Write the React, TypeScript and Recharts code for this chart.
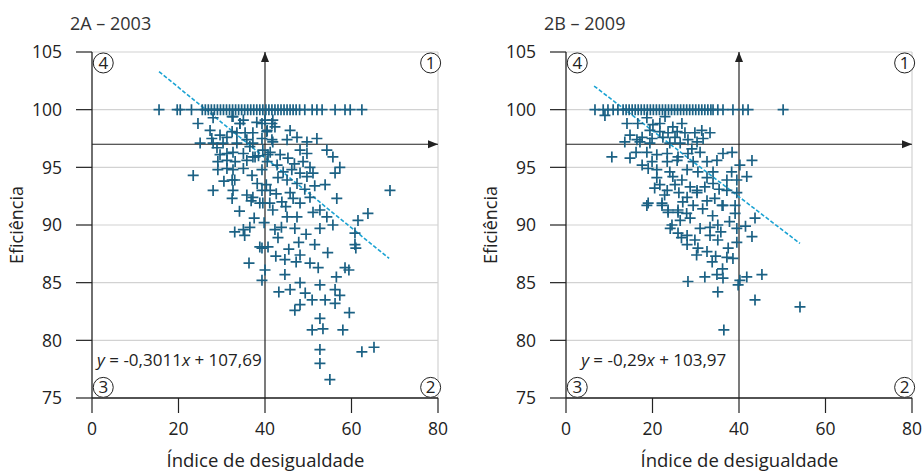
import React from 'react';
import { ScatterChart, Scatter, XAxis, YAxis, CartesianGrid, ReferenceLine, ReferenceDot } from 'recharts';

type Pt = [number, number];

const xTicks = [0, 20, 40, 60, 80];
const yTicks = [75, 80, 85, 90, 95, 100, 105];

// 2003: x positions of units with efficiency = 100
const full2003X: number[] = [
  15.5, 19.7, 20.4, 23, 25.5, 26.2, 26.9, 27.6, 28.3, 29, 29.7, 30.4, 31.1, 31.8, 32.5, 33.2,
  33.9, 34.6, 35.3, 36, 36.7, 37.4, 38.1, 38.8, 39.5, 40.2, 40.9, 41.6, 42.3, 43, 43.7, 44.4,
  45.1, 45.8, 46.5, 47.2, 48, 49.2, 50.9, 52, 53.2, 56.2, 58.5, 59.7, 62.4,
];

const scatter2003: Pt[] = [
  [24.5, 98.8], [27.3, 98.2], [28, 99.3], [27.7, 97.5], [29.6, 97.8], [31.2, 97.6], [32.6, 99.4],
  [34.2, 98.8], [35, 99.1], [32.4, 98.1], [33.5, 98], [35.4, 98], [37.2, 98], [38.1, 98.9],
  [39.3, 98.8], [40, 99.1], [40.4, 98.1], [41.6, 98.8], [25, 97.1], [28, 97.1], [28.9, 96.7],
  [30.3, 97.1], [33.5, 97.1], [35.8, 97.4], [37.2, 97.1], [39.3, 97.5], [41.8, 97.2], [29.6, 96.1],
  [31.2, 96.2], [32.6, 96.3], [35, 96.2], [37.2, 95.9], [39.5, 96.5], [40.7, 96.1], [29.1, 95.5],
  [31.2, 95.6], [33.1, 95.5], [35.8, 95.6], [37.7, 95.9], [40.5, 95.5], [23.4, 94.3], [29.1, 94.8],
  [31.2, 94.9], [32.6, 94.8], [35, 94.9], [37, 94.3], [39.3, 94.8], [32.4, 93.9], [33, 93.9],
  [28, 93], [32.6, 93], [35.8, 92.6], [37.2, 92.4], [39.3, 93], [32.4, 92.3], [39.5, 91.9],
  [41.1, 91.9], [32.4, 99.4], [34.2, 98.8], [41.8, 99.1], [42.3, 98.5], [40.5, 98.2], [45.8, 98.2],
  [47.4, 97.6], [45.1, 97.4], [49.7, 97.2], [52, 97.5], [41.6, 97.4], [54.3, 96.5], [55.7, 95.9],
  [57.3, 95], [56.2, 94.5], [48.1, 96.5], [49.7, 96.2], [45.3, 95.8], [48.8, 95.5], [50.4, 95],
  [43.5, 96.1], [41.2, 96.3], [51.1, 94.5], [46.2, 94.8], [48.1, 94.5], [43, 94.1], [45.1, 93.9],
  [47.4, 93.6], [49.7, 94.2], [53.9, 93.5], [68.9, 93], [56.6, 92.3], [50.4, 92.4], [45.8, 92.8],
  [43.9, 92], [41.2, 93], [38.8, 91.9], [48.1, 91.9], [52.7, 91.3], [51.1, 91.1], [54.3, 90.7],
  [63.8, 91], [61.5, 90.4], [41.8, 91.3], [45.1, 90.7], [47.4, 90.7], [55.7, 90], [60.8, 89.3],
  [52.7, 89.7], [35, 89.6], [36.5, 89.8], [42.3, 89.6], [46.9, 89.7], [43, 88.9], [60.8, 88.3],
  [38.8, 88.1], [40.7, 88.1], [33, 89.4], [35.3, 89.1], [39.3, 88], [42.5, 87.3], [44.6, 87],
  [47.2, 86.8], [48.1, 87.4], [50.4, 86.7], [52.3, 86.3], [58.5, 86.3], [39.3, 85.2], [44.6, 85.7],
  [48.1, 85], [52.7, 84.8], [45.8, 84.4], [49.3, 84.1], [56.2, 84.4], [50.9, 83.5], [57.3, 83.9],
  [46.9, 82.6], [53.9, 83.5], [56.2, 83.2], [52.7, 81.9], [53.4, 81], [50.9, 80.9], [58, 80.9],
  [59.5, 82.4], [52.7, 79.2], [52.7, 78], [55, 76.6], [62.4, 79], [65.2, 79.4], [48.1, 83.1],
  [43.2, 84.2], [40, 86.1], [59.4, 86.1], [61, 88], [36.3, 86.7],
  [36.5, 96.8], [38.5, 96], [42.8, 95.2], [44.2, 94.6], [46.8, 95.3], [38.2, 93.6], [40.3, 93.5],
  [42.6, 92.7], [44.8, 91.6], [46.5, 92.3], [49.2, 93.1], [51.5, 93.4], [37.5, 90.6], [39.8, 90.2],
  [43.8, 89.8], [49.5, 89.2], [51.5, 88.3], [47.8, 88.5], [45.5, 87.9], [54.5, 87.6], [56.5, 85.5],
  [30.5, 93.8], [34.1, 91.2], [36.8, 92.1],
];

const full2009X: number[] = [
  6.7, 8.6, 9.7, 10.9, 12, 13.2, 13.9, 14.6, 15.3, 16, 16.7, 17.4, 18.1, 18.8, 19.5, 20.2,
  20.9, 21.6, 22.3, 23, 23.7, 24.4, 25.1, 25.8, 26.5, 27.2, 27.9, 28.6, 29.3, 30, 30.7, 31.4,
  32.1, 32.8, 33.5, 34, 35.1, 36.3, 38.6, 40.9, 42.1, 50.2,
];

const scatter2009: Pt[] = [
  [9, 99.5], [14.1, 98.8], [16.6, 98.8], [18.7, 99.3], [20.1, 98.7], [21.7, 98.8], [22.9, 99.4],
  [24.7, 98.5], [26.8, 98.8], [19.4, 98.2], [21.7, 98.1], [23.6, 98], [25.7, 98.1], [14.8, 97.8],
  [17.6, 97.6], [16.4, 97.4], [19.9, 97.5], [22.4, 97.6], [25.2, 97.6], [27.5, 98], [29.8, 98],
  [31.4, 98.2], [33.3, 98], [31.7, 97.5], [13.6, 97.2], [17.1, 97.2], [19.4, 97.1], [24, 97.1],
  [26.4, 97.1], [28.2, 97.4], [30.3, 97.2], [10.6, 95.9], [14.8, 95.8], [18.7, 96.3], [21, 96.1],
  [23.4, 96.2], [25.9, 95.9], [28.2, 96.2], [31, 96.3], [36.3, 96.2], [38.4, 96.3], [43, 95.6],
  [40.2, 95.2], [17.6, 95.2], [19.9, 95.5], [23.4, 95.5], [25.7, 95.6], [29.4, 95.5], [32.6, 95.5],
  [34.9, 95.6], [19, 94.9], [21, 94.8], [24, 94.6], [28, 94.8], [30.5, 94.6], [34, 94.6],
  [37.2, 93.9], [41.8, 94.2], [39.5, 93.9], [21, 94.1], [24.7, 94.2], [26.8, 93.9], [32.6, 94.1],
  [34, 93.6], [21.7, 93.5], [23.4, 93], [25.2, 93.5], [28.7, 93.3], [30.3, 93], [32.1, 93.3],
  [37.2, 93], [18.7, 91.7], [22.2, 91.7], [23.6, 91.3], [25.9, 91.3], [27, 92], [28, 92.4],
  [29.4, 91.7], [32.6, 92.1], [34.4, 92.3], [36.1, 91.7], [39.1, 91.7], [39.5, 92.8], [19, 91.9],
  [22.2, 91.9], [23.6, 91.1], [25.9, 91.1], [30.3, 92.8], [36.3, 91.7], [39.1, 91], [43.7, 90.6],
  [24.5, 90], [26.4, 90.4], [28.7, 90.6], [31, 89.7], [33.3, 89.8], [35.1, 90], [39.5, 89.7],
  [25.9, 89.3], [28, 89.1], [29.8, 88.7], [33.3, 89.1], [35.1, 88.7], [39.5, 88.5], [43, 89],
  [28, 88.3], [30.5, 88], [32.6, 87.7], [37.5, 88], [33.8, 86.8], [37.2, 87.2], [38.6, 87.1],
  [28.2, 85.1], [32.1, 85.5], [34.9, 85.7], [36.3, 85.4], [40.2, 85.2], [41.8, 85.5], [45.3, 85.7],
  [39.8, 84.8], [35.1, 84.2], [43.7, 83.5], [54.1, 82.9], [36.5, 80.9],
  [16.2, 96.3], [20.5, 93.2], [22.8, 92.6], [26.1, 92.8], [27.9, 91], [31.6, 91.4], [33.9, 90.8],
  [35.8, 89.4], [37.8, 90.3], [30.2, 87.4], [34.6, 87.3], [36.2, 86.2], [26.7, 88.9], [24.1, 89.7],
  [41.5, 89.9], [38.3, 94.6], [35.4, 93.1], [29.1, 96.6],
];

const trend2003: Pt[] = [[15.5, 103.3], [68.7, 87.1]];
const trend2009: Pt[] = [[6.5, 102.05], [54.1, 88.4]];

const MARK = '#1b6184';
const TREND = '#1ba3d3';
const INK = '#222';
const GRID = '#d2d2d2';
const FONT = "'Open Sans', sans-serif";

const Plus = (props: any) => {
  const { cx, cy } = props;
  if (cx == null || cy == null) return <g />;
  const s = 5.5;
  return (
    <path
      d={`M${cx - s},${cy}H${cx + s}M${cx},${cy - s}V${cy + s}`}
      stroke={MARK}
      strokeWidth={1.7}
      fill="none"
    />
  );
};

const circled = (label: string) => (p: any) => (
  <g>
    <circle cx={p.cx} cy={p.cy} r={10} fill="#fff" stroke={INK} strokeWidth={1} />
    <text x={p.cx} y={p.cy + 6} textAnchor="middle" fontSize={17} fill={INK} fontFamily={FONT}>
      {label}
    </text>
  </g>
);

const arrowRight = (p: any) => (
  <path d={`M${p.cx},${p.cy}L${p.cx - 10},${p.cy - 4}L${p.cx - 10},${p.cy + 4}Z`} fill={INK} />
);
const arrowUp = (p: any) => (
  <path d={`M${p.cx},${p.cy}L${p.cx - 4},${p.cy + 10}L${p.cx + 4},${p.cy + 10}Z`} fill={INK} />
);

const equation = (slope: string, intercept: string) => (p: any) => (
  <text x={p.cx} y={p.cy + 6} fontSize={17} fill={INK} fontFamily={FONT}>
    <tspan fontStyle="italic">y</tspan>
    {' = ' + slope}
    <tspan fontStyle="italic">x</tspan>
    {' + ' + intercept}
  </text>
);

type PanelProps = {
  left: number;
  width: number;
  marginRight: number;
  fullX: number[];
  pts: Pt[];
  trend: Pt[];
  slope: string;
  intercept: string;
  eqX: number;
};

function Panel({ left, width, marginRight, fullX, pts, trend, slope, intercept, eqX }: PanelProps) {
  const data = [...fullX.map((x) => ({ x, y: 100 })), ...pts.map(([x, y]) => ({ x, y }))];
  const tickStyle = { fill: INK, fontSize: 17.5, fontFamily: FONT };
  return (
    <div style={{ position: 'absolute', left, top: 0 }}>
      <ScatterChart width={width} height={474} margin={{ top: 52, right: marginRight, bottom: 0, left: 0 }}>
        <CartesianGrid horizontal vertical={false} stroke={GRID} strokeWidth={1.2} />
        <XAxis
          type="number"
          dataKey="x"
          domain={[0, 80]}
          ticks={xTicks}
          allowDataOverflow
          height={76}
          tickSize={15}
          tickMargin={10}
          tick={tickStyle}
          axisLine={{ stroke: INK, strokeWidth: 1.3 }}
          tickLine={{ stroke: INK, strokeWidth: 1.2 }}
        />
        <YAxis
          type="number"
          dataKey="y"
          domain={[75, 105]}
          ticks={yTicks}
          allowDataOverflow
          width={92}
          tickSize={16}
          tickMargin={14}
          tick={tickStyle}
          axisLine={{ stroke: INK, strokeWidth: 1.3 }}
          tickLine={{ stroke: INK, strokeWidth: 1.2 }}
        />
        <ReferenceLine x={80} stroke={GRID} strokeWidth={1.2} />
        <ReferenceLine y={97} stroke={INK} strokeWidth={1.2} />
        <ReferenceLine x={40} stroke={INK} strokeWidth={1.2} />
        <Scatter data={data} shape={Plus} isAnimationActive={false} />
        <ReferenceLine
          segment={[{ x: trend[0][0], y: trend[0][1] }, { x: trend[1][0], y: trend[1][1] }]}
          stroke={TREND}
          strokeWidth={1.6}
          strokeDasharray="4 2"
        />
        <ReferenceDot x={80} y={97} shape={arrowRight} />
        <ReferenceDot x={40} y={105} shape={arrowUp} />
        <ReferenceDot x={2.6} y={104.05} shape={circled('4')} />
        <ReferenceDot x={78.3} y={104.05} shape={circled('1')} />
        <ReferenceDot x={2.6} y={75.92} shape={circled('3')} />
        <ReferenceDot x={78.3} y={75.92} shape={circled('2')} />
        <ReferenceDot x={eqX} y={78.3} shape={equation(slope, intercept)} />
      </ScatterChart>
    </div>
  );
}

export default function App() {
  return (
    <div
      style={{
        position: 'absolute',
        left: 0,
        top: 0,
        width: 924,
        height: 474,
        overflow: 'hidden',
        background: '#fff',
        fontFamily: FONT,
      }}
    >
      <Panel
        left={0}
        width={462}
        marginRight={24}
        fullX={full2003X}
        pts={scatter2003}
        trend={trend2003}
        slope="-0,3011"
        intercept="107,69"
        eqX={1.16}
      />
      <Panel
        left={474}
        width={450}
        marginRight={12}
        fullX={full2009X}
        pts={scatter2009}
        trend={trend2009}
        slope="-0,29"
        intercept="103,97"
        eqX={3.5}
      />
      <svg
        width={924}
        height={474}
        style={{ position: 'absolute', left: 0, top: 0, pointerEvents: 'none' }}
      >
        <g fontFamily={FONT} fill="#333">
          <text x={70} y={30} fontSize={18}>2A – 2003</text>
          <text x={544} y={30} fontSize={18}>2B – 2009</text>
          <text x={265.5} y={467} fontSize={18.5} textAnchor="middle" fill={INK}>Índice de desigualdade</text>
          <text x={739.5} y={467} fontSize={18.5} textAnchor="middle" fill={INK}>Índice de desigualdade</text>
          <text x={23} y={225} fontSize={18} textAnchor="middle" fill={INK} transform="rotate(-90 23 225)">Eficiência</text>
          <text x={497} y={225} fontSize={18} textAnchor="middle" fill={INK} transform="rotate(-90 497 225)">Eficiência</text>
        </g>
      </svg>
    </div>
  );
}
